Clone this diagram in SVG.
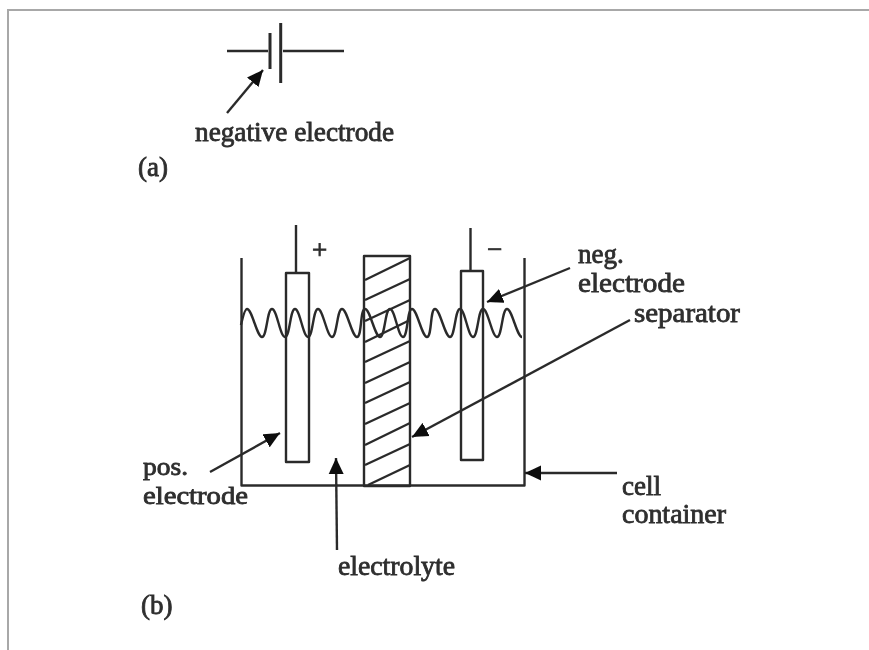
<svg xmlns="http://www.w3.org/2000/svg" width="869" height="650" viewBox="0 0 869 650">
<style>
.l{fill:none;stroke:#2c2c2c;stroke-width:2.400;stroke-linejoin:round}
.p{fill:none;stroke:#2c2c2c;stroke-width:3}
.t{font-family:"Liberation Serif",serif;font-size:27px;fill:#2e2e2e;stroke:#2e2e2e;stroke-width:.8}
.s{font-size:25px}
.a{fill:none;stroke:#2c2c2c;stroke-width:2.400}
</style>
<defs>
<marker id="h" markerUnits="userSpaceOnUse" markerWidth="18" markerHeight="16" refX="16" refY="8" orient="auto"><path d="M0,0.500L16,8L0,15.500Z" fill="#111"/></marker>
<filter id="b" x="-2%" y="-2%" width="104%" height="104%"><feGaussianBlur stdDeviation="0.6"/></filter>
</defs>
<rect width="869" height="650" fill="#fff"/>
<path d="M8,650V10H869" fill="none" stroke="#a8a8a8" stroke-width="2"/>
<g filter="url(#b)">
<g id="symbol"><path class="l" d="M227,51H268M283,51H344"/><path class="p" d="M270,33V69M280.700,23V83"/></g>
<g id="container"><path class="l" d="M241.500,258V485.500H524.500V258"/></g>
<g id="pos-electrode"><rect class="l" x="286" y="273" width="23" height="189"/><path class="l" d="M296,225V273"/></g>
<g id="neg-electrode"><rect class="l" x="461" y="271" width="22" height="189"/><path class="l" d="M470.500,228V271"/></g>
<g id="separator"><rect class="l" x="364" y="256" width="46" height="230"/><path class="l" d="M365,280L410,258M365,300L410,279M365,321L410,300M365,342L410,320M365,362L410,341M365,383L410,362M365,403L410,382M365,424L410,403M365,445L410,423M365,465L410,444M368,485L410,465"/></g>
<g id="electrolyte"><path class="l" d="M241,325C243,316 245,309 247,309C252,309 257,337 262,337C267,337 267,309 272,309C277,309 280,337 285,337C290,337 290,309 295,309C300,309 303,337 308,337C313,337 313,309 318,309C323,309 327,337 332,337C337,337 337,309 342,309C347,309 352,337 357,337C362,337 360,309 365,309C370,309 375,337 380,337C385,337 385,309 390,309C395,309 398,337 403,337C408,337 407,309 412,309C417,309 422,337 427,337C432,337 430,309 435,309C440,309 445,337 450,337C455,337 455,309 460,309C465,309 468,337 473,337C478,337 478,309 483,309C488,309 492,337 497,337C502,337 502,309 507,309C512,309 517,337 522,337"/></g>
<g id="connectors"><path class="a" marker-end="url(#h)" d="M227,113L263,70"/><path class="a" marker-end="url(#h)" d="M570,268L487,302"/><path class="a" marker-end="url(#h)" d="M630,320L412,437"/><path class="a" marker-end="url(#h)" d="M210,472L280,433"/><path class="a" marker-end="url(#h)" d="M337,550L336,458"/><path class="a" marker-end="url(#h)" d="M617,473H525"/></g>
<g id="labels">
<text class="t" x="195" y="141" textLength="199" lengthAdjust="spacingAndGlyphs">negative electrode</text>
<text class="t" x="138" y="176">(a)</text>
<text class="t" x="312" y="259">+</text>
<text class="t" x="487" y="258">−</text>
<text class="t" x="578" y="263">neg.</text>
<text class="t" x="578" y="292" textLength="107" lengthAdjust="spacingAndGlyphs">electrode</text>
<text class="t" x="634" y="322" textLength="106" lengthAdjust="spacingAndGlyphs">separator</text>
<text class="t s" x="143" y="475" textLength="45" lengthAdjust="spacingAndGlyphs">pos.</text>
<text class="t s" x="143" y="504" textLength="105" lengthAdjust="spacingAndGlyphs">electrode</text>
<text class="t" x="622" y="495">cell</text>
<text class="t" x="622" y="523" textLength="104" lengthAdjust="spacingAndGlyphs">container</text>
<text class="t" x="338" y="575" textLength="117" lengthAdjust="spacingAndGlyphs">electrolyte</text>
<text class="t" x="141" y="614">(b)</text>
</g>
</g>
</svg>
